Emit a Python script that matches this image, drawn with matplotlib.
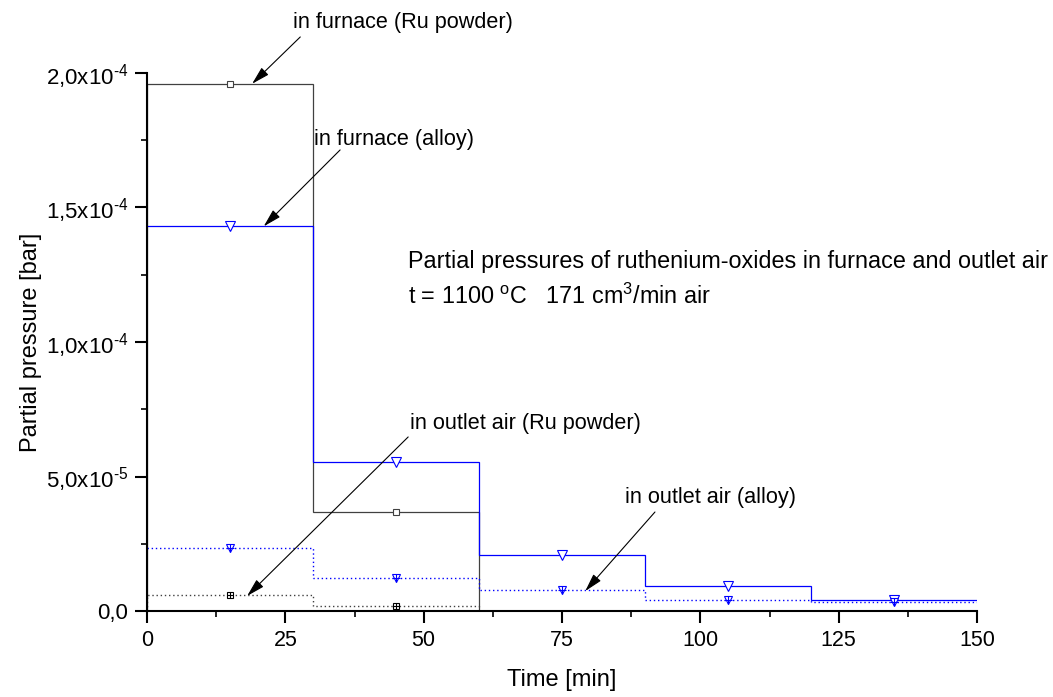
import numpy as np
import matplotlib.pyplot as plt
from matplotlib.ticker import MultipleLocator, FuncFormatter

# fonts: Arial-like everywhere, also inside the superscripts
plt.rcParams['font.family'] = 'Liberation Sans'
plt.rcParams['mathtext.fontset'] = 'custom'
plt.rcParams['mathtext.rm'] = 'Liberation Sans'
plt.rcParams['mathtext.it'] = 'Liberation Sans'
plt.rcParams['mathtext.default'] = 'regular'

# time intervals [min]
edges_ru = [0, 30, 60]
edges_alloy = [0, 30, 60, 90, 120, 150]

# partial pressures [bar]
furnace_ru = [1.96e-4, 3.68e-5]
outlet_ru = [5.9e-6, 1.9e-6]
furnace_alloy = [1.43e-4, 5.54e-5, 2.07e-5, 9.3e-6, 4.1e-6]
outlet_alloy = [2.34e-5, 1.23e-5, 7.7e-6, 4.0e-6, 3.5e-6]

fs_label = 17     # axis titles
fs_title = 16.8   # text block
fs_note = 15.6    # arrow labels
fs_tick = 15.5


def mids(edges):
    e = np.array(edges, dtype=float)
    return (e[:-1] + e[1:]) / 2


fig = plt.figure(figsize=(10.53, 6.97), dpi=100)
ax = fig.add_axes([147/1053, 86/697, 830/1053, 538/697])

blue = '#0000ff'
dark = '#404040'

# step lines
ax.stairs(furnace_ru, edges_ru, baseline=0, color=dark, lw=0.9)
ax.stairs(outlet_ru, edges_ru, baseline=0, color=dark, lw=1.0,
          linestyle=(0, (1, 2)))
ax.stairs(furnace_alloy, edges_alloy, baseline=None, color=blue, lw=0.9)
ax.stairs(outlet_alloy, edges_alloy, baseline=None, color=blue, lw=1.0,
          linestyle=(0, (1, 2)))

# markers in the middle of each interval
ax.plot(mids(edges_ru), furnace_ru, 's', ms=5, mfc='white', mec=dark,
        mew=0.8, ls='none')
ax.plot(mids(edges_ru), outlet_ru, 's', ms=5, mfc='white', mec='black',
        mew=0.8, ls='none')
ax.plot(mids(edges_ru), outlet_ru, '+', ms=5, mec='black', mew=0.8, ls='none')
ax.plot(mids(edges_alloy), furnace_alloy, 'v', ms=7, mfc='white', mec=blue,
        mew=0.8, ls='none')
ax.plot(mids(edges_alloy), outlet_alloy, 'v', ms=6, mfc='white', mec=blue,
        mew=0.8, ls='none')
ax.plot(mids(edges_alloy), outlet_alloy, '+', ms=6, mec=blue, mew=0.8,
        ls='none')

# axes
ax.set_xlim(0, 150)
ax.set_ylim(0, 2.0e-4)
ax.spines['top'].set_visible(False)
ax.spines['right'].set_visible(False)
ax.spines['left'].set_linewidth(1.5)
ax.spines['bottom'].set_linewidth(1.5)

ax.xaxis.set_major_locator(MultipleLocator(25))
ax.xaxis.set_minor_locator(MultipleLocator(12.5))
ax.yaxis.set_major_locator(MultipleLocator(5e-5))
ax.yaxis.set_minor_locator(MultipleLocator(2.5e-5))
ax.tick_params(which='major', direction='out', length=8.5, width=1.5,
               labelsize=fs_tick, pad=5)
ax.tick_params(axis='y', which='major', labelsize=16)
ax.tick_params(which='minor', direction='out', length=4.5, width=1.2)


def yfmt(v, pos):
    if abs(v) < 1e-12:
        return '0,0'
    exp = int(np.floor(np.log10(abs(v))))
    mant = v / 10**exp
    return ('%.1f' % mant).replace('.', ',') + \
        'x10$^{\\text{-}%d}$' % abs(exp)


ax.yaxis.set_major_formatter(FuncFormatter(yfmt))

ax.set_xlabel('Time [min]', fontsize=fs_label, labelpad=13)
ax.set_ylabel('Partial pressure [bar]', fontsize=fs_label, labelpad=3)

# arrows (tail -> head) and their labels
arrow = dict(arrowstyle='-|>,head_length=1.1,head_width=0.3', color='black',
             lw=0.8, mutation_scale=10, shrinkA=0, shrinkB=0)
ax.annotate('', xy=(19.0, 1.96e-4), xytext=(27.7, 2.134e-4),
            arrowprops=arrow, annotation_clip=False)
ax.annotate('', xy=(21.1, 1.43e-4), xytext=(34.9, 1.714e-4),
            arrowprops=arrow)
ax.annotate('', xy=(18.1, 5.6e-6), xytext=(47.2, 6.47e-5),
            arrowprops=arrow)
ax.annotate('', xy=(79.2, 7.4e-6), xytext=(91.8, 3.68e-5),
            arrowprops=arrow)

ax.text(26.4, 2.197e-4, 'in furnace (Ru powder)', fontsize=fs_note,
        ha='left', va='center_baseline', clip_on=False)
ax.text(30.2, 1.762e-4, 'in furnace (alloy)', fontsize=fs_note,
        ha='left', va='center_baseline')
ax.text(47.5, 7.06e-5, 'in outlet air (Ru powder)', fontsize=fs_note,
        ha='left', va='center_baseline')
ax.text(86.4, 4.31e-5, 'in outlet air (alloy)', fontsize=fs_note,
        ha='left', va='center_baseline')

ax.text(47.2, 1.309e-4,
        'Partial pressures of ruthenium-oxides in furnace and outlet air',
        fontsize=fs_title, ha='left', va='center_baseline')
ax.text(47.2, 1.178e-4, 't = 1100 $^{o}$C   171 cm$^{3}$/min air',
        fontsize=fs_title, ha='left', va='center_baseline')

fig.savefig('out.png', dpi=100)
